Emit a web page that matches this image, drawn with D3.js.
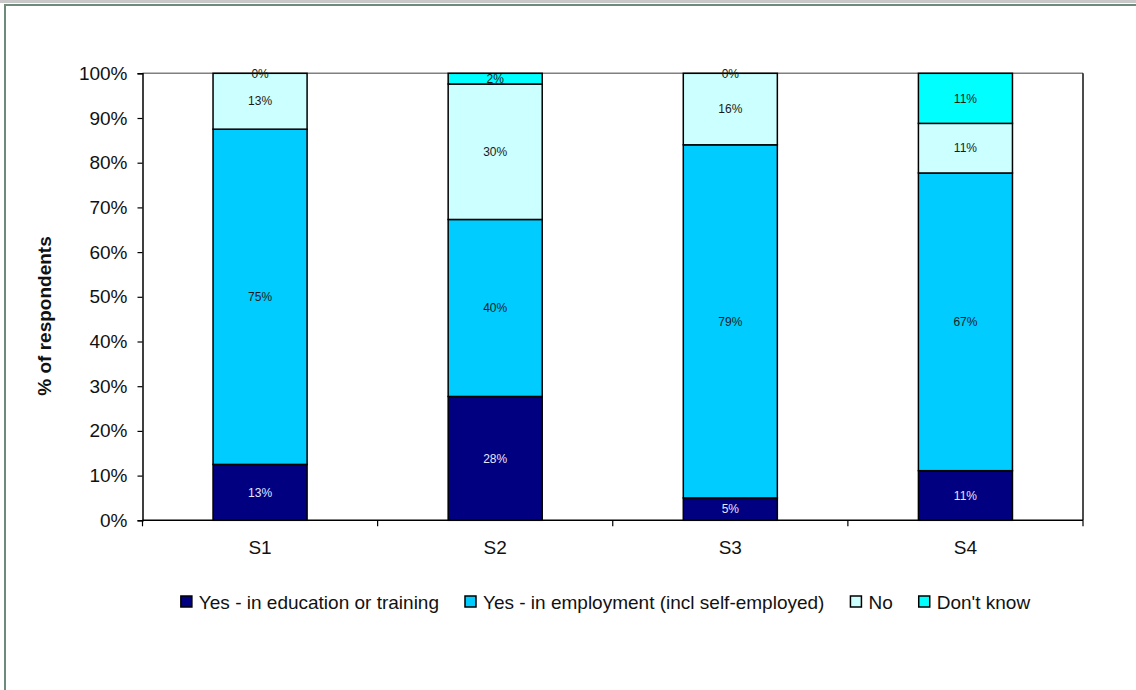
<!DOCTYPE html>
<html><head><meta charset="utf-8">
<script src="https://cdn.jsdelivr.net/npm/d3@7"></script>
<style>
html,body{margin:0;padding:0;background:#fff;}
svg{display:block;font-family:"Liberation Sans",Arial,sans-serif;}
</style></head>
<body><svg id="c" width="1136" height="690"></svg>
<script>
const categories = ["S1","S2","S3","S4"];
const seriesNames = ["Yes - in education or training","Yes - in employment (incl self-employed)","No","Don't know"];
const eduValues = [12.5, 27.7, 5.0, 11.1];
const empValues = [75.0, 39.6, 79.0, 66.6];
const noValues  = [12.5, 30.3, 16.0, 11.1];
const dkValues  = [0.0, 2.4, 0.0, 11.2];
const yTicks = [0,10,20,30,40,50,60,70,80,90,100];
const colors = ["#000080","#00CCFF","#CCFFFF","#00FFFF"];
const labelColors = ["#e6e6ff","#1a1a1a","#1a1a1a","#1a1a1a"];

const svg = d3.select("#c");
// page frame
svg.append("rect").attr("x",0).attr("y",0).attr("width",1136).attr("height",3).attr("fill","#c8c8c8");
svg.append("rect").attr("x",4).attr("y",4).attr("width",1132).attr("height",2).attr("fill","#6e8a7c");
svg.append("rect").attr("x",4).attr("y",4).attr("width",2).attr("height",686).attr("fill","#6e8a7c");

const L = 142.5, R = 1083, T = 73.3, B = 520.3;
const x = d3.scaleBand().domain(categories).range([L,R]).paddingInner(0.6).paddingOuter(0.3);
const y = d3.scaleLinear().domain([0,100]).range([B,T]);

const series = [eduValues, empValues, noValues, dkValues];
const rows = categories.map((c,i)=>{const o={cat:c}; seriesNames.forEach((s,j)=>o[s]=series[j][i]); return o;});
const stacked = d3.stack().keys(seriesNames)(rows);

// plot border (top grey, right black)
svg.append("line").attr("x1",L).attr("x2",R).attr("y1",T).attr("y2",T).attr("stroke","#808080").attr("stroke-width",1.5);
svg.append("line").attr("x1",R).attr("x2",R).attr("y1",T).attr("y2",B).attr("stroke","#111").attr("stroke-width",1.5);

// bars
stacked.forEach((layer,j)=>{
  svg.append("g").selectAll("rect").data(layer).join("rect")
    .attr("x",d=>x(d.data.cat)).attr("width",x.bandwidth())
    .attr("y",d=>y(d[1])).attr("height",d=>y(d[0])-y(d[1]))
    .attr("fill",colors[j]).attr("stroke","#000").attr("stroke-width",1.5);
});
// labels
stacked.forEach((layer,j)=>{
  svg.append("g").selectAll("text").data(layer).join("text")
    .attr("x",d=>x(d.data.cat)+x.bandwidth()/2)
    .attr("y",d=>y((d[0]+d[1])/2))
    .attr("dy","0.35em").attr("text-anchor","middle")
    .attr("font-size",12).attr("fill",labelColors[j])
    .text(d=>Math.round(d[1]-d[0])+"%");
});

// y axis
const ya = svg.append("g").attr("transform",`translate(${L},0)`)
  .call(d3.axisLeft(y).tickValues(yTicks).tickFormat(d=>d+"%").tickSize(5).tickPadding(10));
ya.select(".domain").attr("stroke","#000").attr("stroke-width",1.5);
ya.selectAll(".tick line").attr("stroke","#000").attr("stroke-width",1.2);
ya.selectAll(".tick text").attr("font-size",19).attr("fill","#111").attr("font-family","Liberation Sans, Arial, sans-serif");

// x axis
const xa = svg.append("g").attr("transform",`translate(0,${B})`)
  .call(d3.axisBottom(x).tickSize(0).tickPadding(20));
xa.select(".domain").attr("d",`M${L},0H${R}`).attr("stroke","#000").attr("stroke-width",1.5);
xa.selectAll(".tick text").attr("font-size",19).attr("fill","#111").attr("font-family","Liberation Sans, Arial, sans-serif");
// between-category tick marks
const bounds = [L].concat(categories.map(c=>x(c)+x.bandwidth()/2+x.step()/2));
svg.append("g").selectAll("line").data(bounds).join("line")
  .attr("x1",d=>d).attr("x2",d=>d).attr("y1",B).attr("y2",B+6)
  .attr("stroke","#000").attr("stroke-width",1.2);

// y title
svg.append("text").attr("transform","translate(51,316) rotate(-90)")
  .attr("text-anchor","middle").attr("font-size",19).attr("font-weight","bold").attr("fill","#111")
  .text("% of respondents");

// legend
const lg = svg.append("g");
const items = lg.selectAll("g").data(seriesNames).join("g");
items.append("rect").attr("width",11).attr("height",11).attr("y",-6)
  .attr("fill",(d,i)=>colors[i]).attr("stroke","#000").attr("stroke-width",1.5);
items.append("text").attr("x",18).attr("dy","0.35em").attr("font-size",19).attr("fill","#111").text(d=>d);
let cx = 0; const gap = 26;
items.each(function(){
  const w = 18 + this.querySelector("text").getComputedTextLength();
  d3.select(this).attr("transform",`translate(${cx},0)`);
  cx += w + gap;
});
const total = cx - gap;
lg.attr("transform",`translate(${605.5-total/2},602)`);
</script></body></html>
